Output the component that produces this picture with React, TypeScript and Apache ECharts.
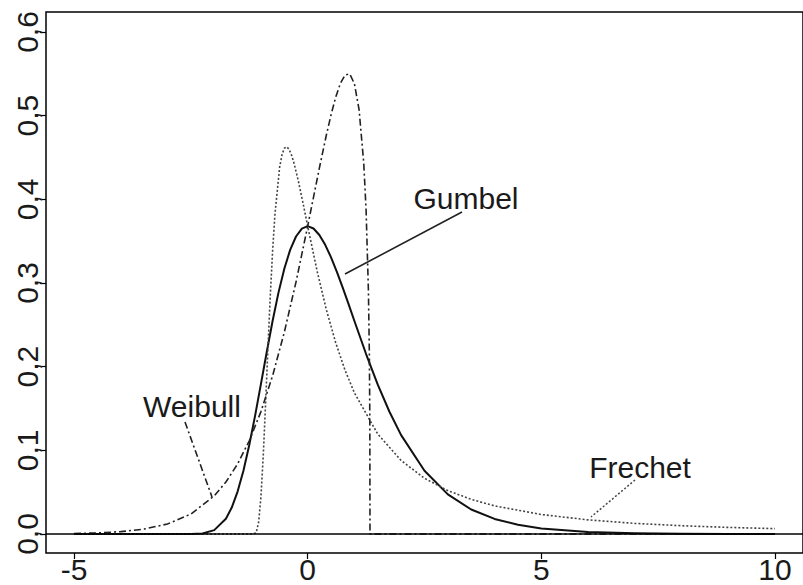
import React, { useEffect, useRef } from "react";
import * as echarts from "echarts";

// Tick labels
const xTicks = [-5, 0, 5, 10];
const yTicks = [0, 0.1, 0.2, 0.3, 0.4, 0.5, 0.6];

// Gumbel density (solid)
const gumbelX = [-5, -4, -3, -2.5, -2.25, -2, -1.75, -1.625, -1.5, -1.375, -1.25, -1.125, -1, -0.875, -0.75, -0.625, -0.5, -0.375, -0.25, -0.125, 0, 0.125, 0.25, 0.375, 0.5, 0.625, 0.75, 0.875, 1, 1.25, 1.5, 1.75, 2, 2.5, 3, 3.5, 4, 4.5, 5, 6, 7, 8, 9, 10];
const gumbelY = [0, 0, 0, 0.0001, 0.0007, 0.0046, 0.0182, 0.0316, 0.0507, 0.0757, 0.1064, 0.1415, 0.1794, 0.2178, 0.2549, 0.2885, 0.317, 0.3396, 0.3556, 0.3649, 0.3679, 0.3651, 0.3574, 0.3456, 0.3307, 0.3134, 0.2945, 0.2748, 0.2546, 0.2151, 0.1785, 0.1461, 0.1182, 0.0756, 0.0474, 0.0293, 0.018, 0.011, 0.0067, 0.0025, 0.0009, 0.0003, 0.0001, 0];

// Frechet density (dotted)
const frechetX = [-5, -1.3333, -1.2, -1.15, -1.1, -1.05, -1, -0.95, -0.9, -0.85, -0.8, -0.75, -0.7, -0.6, -0.55, -0.5, -0.45, -0.4, -0.35, -0.3, -0.2, -0.1, 0, 0.2, 0.4, 0.6, 0.8, 1, 1.5, 2, 2.5, 3, 3.5, 4, 5, 6, 7, 8, 9, 10];
const frechetY = [0, 0, 0, 0.0001, 0.0021, 0.014, 0.0444, 0.0943, 0.1568, 0.2228, 0.285, 0.339, 0.3824, 0.4385, 0.4532, 0.4611, 0.4628, 0.46, 0.4536, 0.4448, 0.422, 0.3955, 0.3679, 0.3147, 0.268, 0.2285, 0.1957, 0.1687, 0.1194, 0.0878, 0.0666, 0.0519, 0.0414, 0.0336, 0.0233, 0.0169, 0.0127, 0.0099, 0.0079, 0.0064];

// Weibull density (dash-dot)
const weibullX = [-5, -4.5, -4, -3.5, -3, -2.5, -2, -1.75, -1.5, -1.25, -1, -0.75, -0.5, -0.25, 0, 0.1, 0.25, 0.4, 0.5, 0.6, 0.7, 0.8, 0.9, 1.0, 1.1, 1.2, 1.25, 1.3, 1.32, 1.33, 1.3333, 1.34, 10];
const weibullY = [0.0006, 0.0013, 0.0028, 0.0059, 0.012, 0.0238, 0.0456, 0.0621, 0.0837, 0.1114, 0.1463, 0.1893, 0.2411, 0.3011, 0.3679, 0.3957, 0.4373, 0.4769, 0.501, 0.5221, 0.5386, 0.5487, 0.5499, 0.5382, 0.5072, 0.4431, 0.3872, 0.2903, 0.215, 0.1357, 0, 0, 0];

const zip = (xs: number[], ys: number[]) => xs.map((x, i) => [x, ys[i]]);

const FONT = "'Liberation Sans', Arial, Helvetica, sans-serif";
const INK = "#1a1a1a";

export default function App() {
  const ref = useRef<HTMLDivElement>(null);
  useEffect(() => {
    if (!ref.current) return;
    const chart = echarts.init(ref.current, undefined, { renderer: "svg" });
    chart.setOption({
      animation: false,
      backgroundColor: "#ffffff",
      grid: {
        left: 46,
        top: 12,
        width: 763.5,
        height: 541,
        show: true,
        borderColor: "#000",
        borderWidth: 1.5,
        backgroundColor: "transparent",
      },
      xAxis: {
        type: "value",
        min: -5.6,
        max: 10.6,
        axisLine: { show: false, onZero: false },
        splitLine: { show: false },
        axisTick: { show: true, length: 6, lineStyle: { color: "#000", width: 1.2 }, customValues: xTicks },
        axisLabel: {
          customValues: xTicks,
          formatter: (v: number) => String(v),
          fontSize: 30,
          fontFamily: FONT,
          color: INK,
          margin: 1,
        },
      },
      yAxis: {
        type: "value",
        min: -0.0227,
        max: 0.6239,
        axisLine: { show: false, onZero: false },
        splitLine: { show: false },
        axisTick: { show: true, length: 6, lineStyle: { color: "#000", width: 1.2 }, customValues: yTicks },
        axisLabel: {
          customValues: yTicks,
          rotate: 90,
          formatter: (v: number) => v.toFixed(1).replace(".", ","),
          fontSize: 30,
          fontFamily: FONT,
          color: INK,
          margin: 4,
        },
      },
      series: [
        {
          name: "Gumbel",
          type: "line",
          data: zip(gumbelX, gumbelY),
          showSymbol: false,
          symbol: "none",
          lineStyle: { color: "#111", width: 2, type: "solid", join: "round" },
          markLine: {
            silent: true,
            symbol: "none",
            label: { show: false },
            lineStyle: { color: "#000", width: 1.5, type: "solid" },
            data: [{ yAxis: 0 }],
          },
        },
        {
          name: "Frechet",
          type: "line",
          data: zip(frechetX, frechetY),
          showSymbol: false,
          symbol: "none",
          lineStyle: { color: "#444", width: 1.6, type: [2, 2], join: "round" },
        },
        {
          name: "Weibull",
          type: "line",
          data: zip(weibullX, weibullY),
          showSymbol: false,
          symbol: "none",
          lineStyle: { color: "#222", width: 1.6, type: [7, 3, 2, 3], join: "round" },
        },
      ],
      graphic: [
        { type: "text", x: 466, y: 198, style: { text: "Gumbel", fontSize: 30, fontFamily: FONT, fill: INK, align: "center", verticalAlign: "middle" } },
        { type: "line", shape: { x1: 462, y1: 212, x2: 345, y2: 274 }, style: { stroke: "#222", lineWidth: 1.6 } },
        { type: "text", x: 192, y: 406, style: { text: "Weibull", fontSize: 30, fontFamily: FONT, fill: INK, align: "center", verticalAlign: "middle" } },
        { type: "line", shape: { x1: 185, y1: 422, x2: 212, y2: 497 }, style: { stroke: "#222", lineWidth: 1.6, lineDash: [7, 3, 2, 3] } },
        { type: "text", x: 640, y: 467, style: { text: "Frechet", fontSize: 30, fontFamily: FONT, fill: INK, align: "center", verticalAlign: "middle" } },
        { type: "line", shape: { x1: 635, y1: 480, x2: 591, y2: 517 }, style: { stroke: "#444", lineWidth: 1.5, lineDash: [2, 2] } },
      ],
    });
    return () => chart.dispose();
  }, []);
  return (
    <div
      ref={ref}
      style={{ position: "absolute", left: 0, top: 0, width: 803, height: 585, background: "#fff" }}
    />
  );
}
